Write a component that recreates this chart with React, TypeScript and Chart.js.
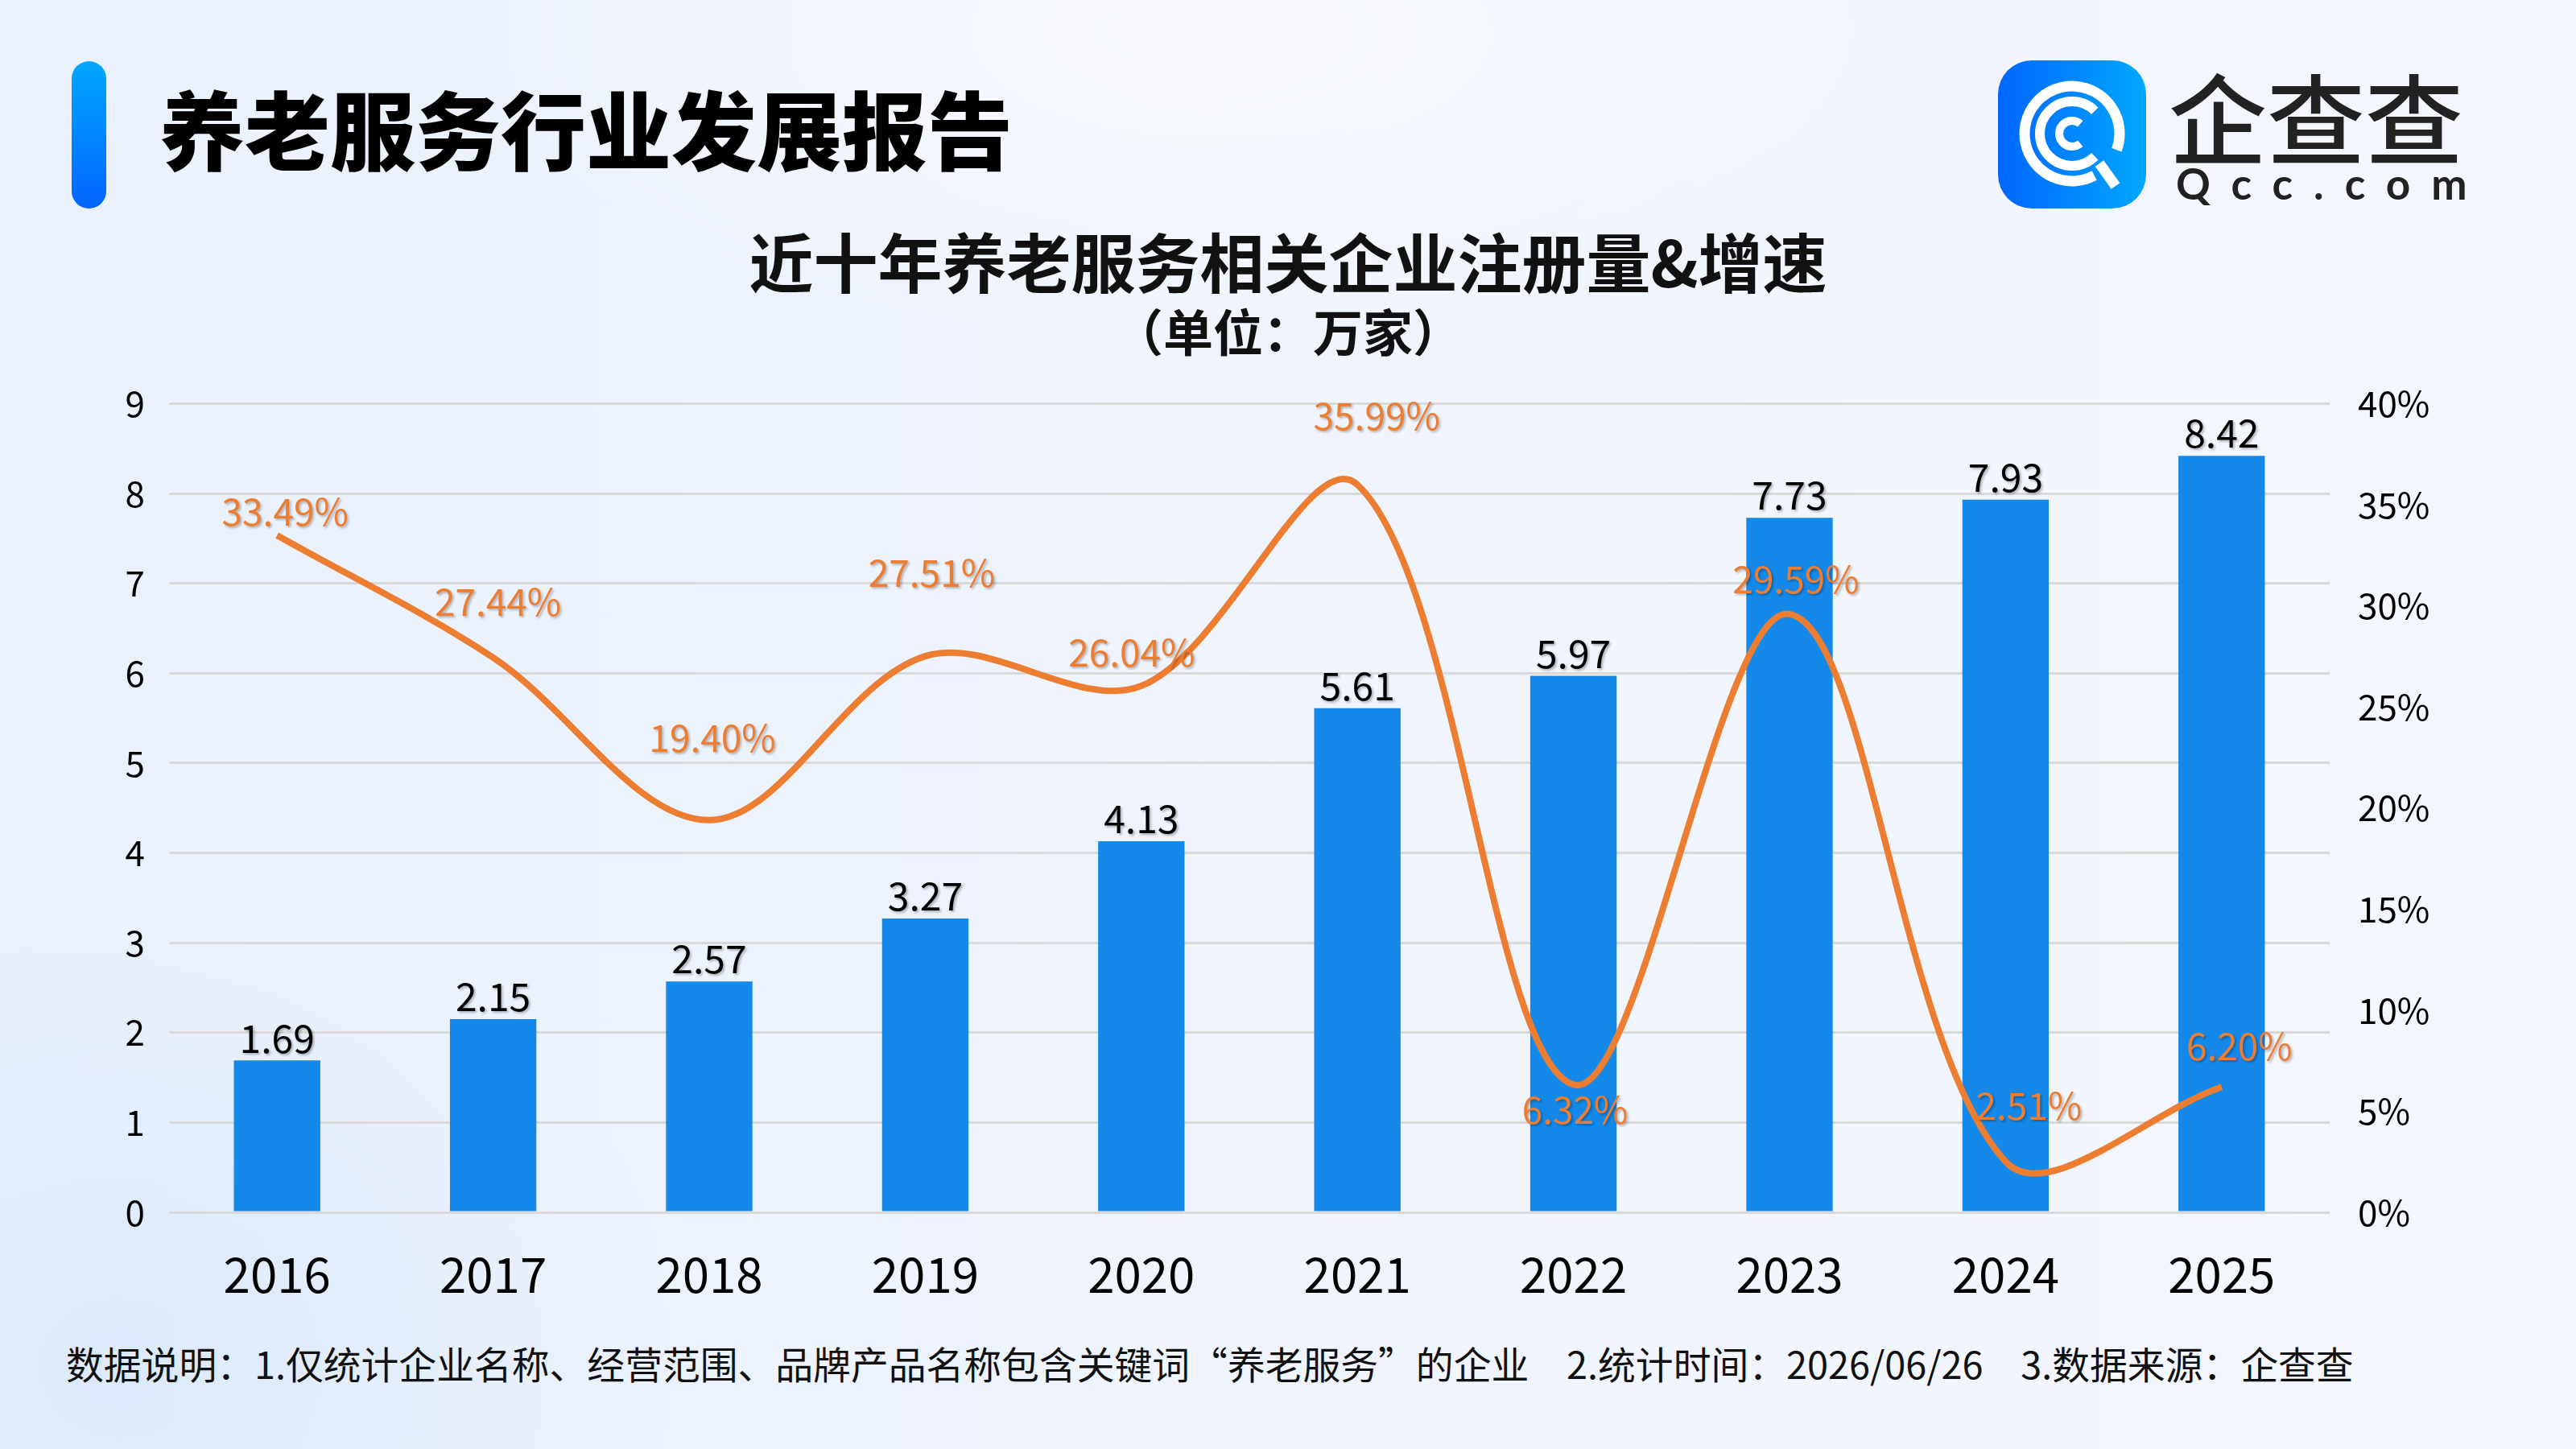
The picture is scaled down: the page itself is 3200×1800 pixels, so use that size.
import React, { useEffect, useRef } from "react";
import { Chart, registerables } from "chart.js";

Chart.register(...registerables);

// ---- data ----
const YEARS = ["2016", "2017", "2018", "2019", "2020", "2021", "2022", "2023", "2024", "2025"];
const REGISTRATIONS = [1.69, 2.15, 2.57, 3.27, 4.13, 5.61, 5.97, 7.73, 7.93, 8.42];
const GROWTH = [33.49, 27.44, 19.4, 27.51, 26.04, 35.99, 6.32, 29.59, 2.51, 6.2];
const LEFT_MAX = 9;
const LEFT_STEP = 1;
const RIGHT_MAX = 40;
const RIGHT_STEP = 5;

const PAGE_TITLE = "养老服务行业发展报告";
const CHART_TITLE = "近十年养老服务相关企业注册量&增速";
const CHART_SUBTITLE = "（单位：万家）";
const FOOTNOTE =
  "数据说明：1.仅统计企业名称、经营范围、品牌产品名称包含关键词“养老服务”的企业\u30002.统计时间：2026/06/26\u30003.数据来源：企查查";

// ---- style ----
const FONT = "'Noto Sans CJK SC', 'Noto Sans', sans-serif";
const BLUE = "#1589EA";
const ORANGE = "#ED7D31";
// label placement relative to each growth point (px)
const GROWTH_LABEL_OFFSETS: [number, number][] = [
  [10, -29],
  [6, -69],
  [4, -102],
  [8, -104],
  [-12, -41],
  [24, -86],
  [2, 31],
  [8, -43],
  [29, -69],
  [22, -51],
];

const valueLabelPlugin = {
  id: "valueLabels",
  afterDatasetsDraw(chart: any) {
    const ctx = chart.ctx;
    const lineMeta = chart.getDatasetMeta(0);
    const barMeta = chart.getDatasetMeta(1);
    ctx.save();
    ctx.textAlign = "center";
    ctx.textBaseline = "middle";
    ctx.shadowColor = "rgba(0,0,0,0.28)";
    ctx.shadowOffsetX = 2;
    ctx.shadowOffsetY = 2;
    ctx.shadowBlur = 3;
    ctx.font = `400 48px ${FONT}`;
    ctx.fillStyle = "#000";
    barMeta.data.forEach((bar: any, i: number) => {
      ctx.fillText(REGISTRATIONS[i].toFixed(2), bar.x, bar.y - 28);
    });
    ctx.font = `400 46px ${FONT}`;
    ctx.fillStyle = ORANGE;
    lineMeta.data.forEach((pt: any, i: number) => {
      const [dx, dy] = GROWTH_LABEL_OFFSETS[i];
      ctx.fillText(GROWTH[i].toFixed(2) + "%", pt.x + dx, pt.y + dy);
    });
    ctx.restore();
  },
};

function arcPath(cx: number, cy: number, r: number, a0: number, a1: number) {
  const rad = (d: number) => (d * Math.PI) / 180;
  const x0 = cx + r * Math.cos(rad(a0));
  const y0 = cy + r * Math.sin(rad(a0));
  const x1 = cx + r * Math.cos(rad(a1));
  const y1 = cy + r * Math.sin(rad(a1));
  const sweep = ((a1 - a0) % 360 + 360) % 360;
  const large = sweep > 180 ? 1 : 0;
  return `M ${x0} ${y0} A ${r} ${r} 0 ${large} 1 ${x1} ${y1}`;
}

function Logo() {
  return (
    <div style={{ position: "absolute", left: 2482, top: 75, width: 640, height: 190 }}>
      <svg width={184} height={184} style={{ position: "absolute", left: 0, top: 0 }}>
        <defs>
          <linearGradient id="lg" x1="0" y1="0" x2="1" y2="0">
            <stop offset="0" stopColor="#0066ff" />
            <stop offset="1" stopColor="#00a8ff" />
          </linearGradient>
        </defs>
        <rect x={0} y={0} width={184} height={184} rx={42} ry={42} fill="url(#lg)" />
        <g fill="none" stroke="#fff" strokeLinecap="butt">
          <path d={arcPath(92, 91, 59, 62, 20)} strokeWidth={13} />
          <path d={arcPath(92, 91, 40, 45, -45)} strokeWidth={12} />
          <path d={arcPath(92, 91, 16, 50, -50)} strokeWidth={10} />
          <line x1={126} y1={128} x2={146} y2={156} strokeWidth={13} />
        </g>
      </svg>
      <div
        style={{
          position: "absolute",
          left: 212,
          top: 142 - 75 - 61,
          fontFamily: FONT,
          fontSize: 122,
          lineHeight: 1,
          fontWeight: 500,
          color: "#222",
          whiteSpace: "nowrap",
        }}
      >
        企查查
      </div>
      <div
        style={{
          position: "absolute",
          left: 221,
          top: 228 - 75 - 30,
          fontFamily: "Lato, 'DejaVu Sans', sans-serif",
          fontSize: 53,
          lineHeight: "60px",
          fontWeight: 700,
          color: "#222",
          letterSpacing: 26,
          whiteSpace: "nowrap",
        }}
      >
        Qcc.com
      </div>
    </div>
  );
}

function ComboChart() {
  const ref = useRef<HTMLCanvasElement | null>(null);
  useEffect(() => {
    if (!ref.current) return;
    const chart = new Chart(ref.current, {
      type: "bar",
      data: {
        labels: YEARS,
        datasets: [
          {
            type: "line",
            label: "增速",
            data: GROWTH,
            yAxisID: "y1",
            borderColor: ORANGE,
            borderWidth: 8,
            pointRadius: 0,
            tension: 0.34,
            fill: false,
            order: 0,
          } as any,
          {
            type: "bar",
            label: "注册量",
            data: REGISTRATIONS,
            yAxisID: "y",
            backgroundColor: BLUE,
            categoryPercentage: 0.8,
            barPercentage: 0.5,
            order: 1,
          },
        ],
      },
      options: {
        animation: false,
        responsive: false,
        devicePixelRatio: 1,
        layout: { padding: { top: 60, left: 0, right: 0, bottom: 0 } },
        plugins: {
          legend: { display: false },
          tooltip: { enabled: false },
          title: { display: false },
        },
        scales: {
          x: {
            grid: { display: false },
            border: { display: false },
            ticks: {
              color: "#000",
              padding: 33,
              font: { family: FONT, size: 60 },
            },
            afterFit: (s: any) => {
              s.height = 134;
            },
          },
          y: {
            position: "left",
            min: 0,
            max: LEFT_MAX,
            ticks: {
              stepSize: LEFT_STEP,
              color: "#000",
              padding: 30,
              font: { family: FONT, size: 44 },
            },
            grid: { color: "#d9d9d9", lineWidth: 3, drawTicks: false },
            border: { display: false },
            afterFit: (s: any) => {
              s.width = 210;
            },
          },
          y1: {
            position: "right",
            min: 0,
            max: RIGHT_MAX,
            ticks: {
              stepSize: RIGHT_STEP,
              color: "#000",
              padding: 35,
              font: { family: FONT, size: 44 },
              callback: (v: any) => `${v}%`,
            },
            grid: { display: false, drawTicks: false },
            border: { display: false },
            afterFit: (s: any) => {
              s.width = 306;
            },
          },
        },
      },
      plugins: [valueLabelPlugin],
    });
    return () => chart.destroy();
  }, []);
  return (
    <canvas
      ref={ref}
      width={3200}
      height={1200}
      style={{ position: "absolute", left: 0, top: 440, width: 3200, height: 1200 }}
    />
  );
}

export default function App() {
  return (
    <div
      style={{
        position: "fixed",
        left: 0,
        top: 0,
        width: 3200,
        height: 1800,
        overflow: "hidden",
        background:
          "radial-gradient(ellipse 900px 400px at 1500px 40px, rgba(250,251,255,0.9), rgba(250,251,255,0)), radial-gradient(ellipse 700px 600px at 150px 1700px, rgba(214,230,250,0.7), rgba(214,230,250,0)), linear-gradient(90deg, #eaf1fc 0%, #eff4fd 50%, #f5f7fe 100%)",
        fontFamily: FONT,
      }}
    >
      <div
        style={{
          position: "absolute",
          left: 89,
          top: 76,
          width: 43,
          height: 183,
          borderRadius: 22,
          background: "linear-gradient(180deg, #00a8ff 0%, #0064ff 100%)",
        }}
      />
      <div
        style={{
          position: "absolute",
          left: 198,
          top: 157 - 53,
          fontSize: 106,
          lineHeight: 1,
          fontWeight: 900,
          color: "#000",
          whiteSpace: "nowrap",
        }}
      >
        {PAGE_TITLE}
      </div>
      <Logo />
      <div
        style={{
          position: "absolute",
          left: 0,
          width: 3200,
          textAlign: "center",
          top: 322 - 40,
          fontSize: 80,
          lineHeight: 1,
          fontWeight: 700,
          color: "#111",
          whiteSpace: "nowrap",
        }}
      >
        {CHART_TITLE}
      </div>
      <div
        style={{
          position: "absolute",
          left: 0,
          width: 3200,
          textAlign: "center",
          top: 410 - 31,
          fontSize: 62,
          lineHeight: 1,
          fontWeight: 700,
          color: "#111",
          whiteSpace: "nowrap",
        }}
      >
        {CHART_SUBTITLE}
      </div>
      <ComboChart />
      <div
        style={{
          position: "absolute",
          left: 82,
          top: 1693 - 23,
          fontSize: 46.8,
          lineHeight: 1,
          fontWeight: 400,
          color: "#111",
          whiteSpace: "pre",
        }}
      >
        {FOOTNOTE}
      </div>
    </div>
  );
}
